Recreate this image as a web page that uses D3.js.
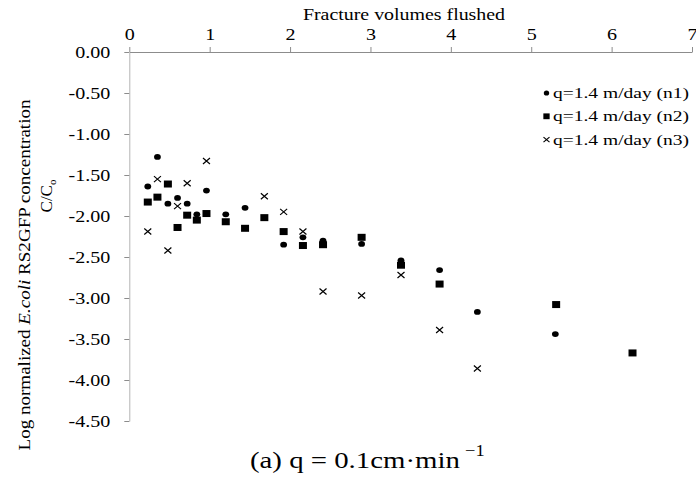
<!DOCTYPE html>
<html>
<head>
<meta charset="utf-8">
<script src="https://cdn.jsdelivr.net/npm/d3@7"></script>
<style>
  body { margin: 0; background: #fff; }
  svg { display: block; }
</style>
</head>
<body>
<svg id="chart"></svg>
<script>
// x = fracture volumes flushed, y = log C/Co
const n1X = [0.23, 0.35, 0.48, 0.60, 0.72, 0.84, 0.96, 1.20, 1.44, 1.92, 2.16, 2.41, 2.89, 3.38, 3.86, 4.33, 5.30];
const n1Y = [-1.64, -1.28, -1.85, -1.78, -1.85, -1.98, -1.69, -1.98, -1.90, -2.35, -2.26, -2.30, -2.34, -2.54, -2.66, -3.17, -3.44];

const n2X = [0.23, 0.35, 0.48, 0.60, 0.72, 0.84, 0.96, 1.20, 1.44, 1.68, 1.92, 2.16, 2.41, 2.89, 3.38, 3.86, 5.31, 6.26];
const n2Y = [-1.83, -1.77, -1.61, -2.14, -1.99, -2.05, -1.97, -2.07, -2.15, -2.02, -2.19, -2.36, -2.35, -2.26, -2.60, -2.83, -3.08, -3.67];

const n3X = [0.23, 0.35, 0.48, 0.60, 0.72, 0.96, 1.68, 1.92, 2.16, 2.41, 2.89, 3.38, 3.86, 4.33];
const n3Y = [-2.19, -1.55, -2.42, -1.88, -1.60, -1.33, -1.76, -1.95, -2.19, -2.92, -2.97, -2.72, -3.39, -3.86];

const legendLabels = ["q=1.4 m/day (n1)", "q=1.4 m/day (n2)", "q=1.4 m/day (n3)"];
const xTickValues = [0, 1, 2, 3, 4, 5, 6, 7];
const yTickValues = [0, -0.5, -1, -1.5, -2, -2.5, -3, -3.5, -4, -4.5];

const W = 696, H = 480;
const serif = "Liberation Serif";

const svg = d3.select("#chart").attr("width", W).attr("height", H);

const x = d3.scaleLinear().domain([0, 7]).range([129.3, 692]);
const y = d3.scaleLinear().domain([-4.5, 0]).range([421, 52]);

// the source picture is a bit wider than its glyphs, so stretch text
function stretch(sel, k) {
  sel.each(function () {
    const w = this.getComputedTextLength();
    d3.select(this).attr("textLength", w * k).attr("lengthAdjust", "spacingAndGlyphs");
  });
}

// top x axis
const gx = svg.append("g")
    .attr("transform", `translate(0,${y(0)})`)
    .call(d3.axisTop(x).tickValues(xTickValues).tickSize(5).tickSizeOuter(0).tickPadding(7)
      .tickFormat(d3.format("d")));
gx.select(".domain").attr("stroke", "#8c8c8c");
gx.selectAll(".tick line").attr("stroke", "#8c8c8c");
gx.selectAll("text").attr("font-family", serif).attr("font-size", 17).attr("fill", "#000")
  .call(stretch, 1.18);

// left y axis
const gy = svg.append("g")
    .attr("transform", `translate(${x(0)},0)`)
    .call(d3.axisLeft(y).tickValues(yTickValues).tickSize(5).tickSizeOuter(0).tickPadding(14)
      .tickFormat(d => d.toFixed(2)));
gy.select(".domain").attr("stroke", "#b4b4b4");
gy.selectAll(".tick line").attr("stroke", "#8c8c8c");
gy.selectAll("text").attr("font-family", serif).attr("font-size", 17).attr("fill", "#000")
  .call(stretch, 1.18);

// axis titles
svg.append("text")
    .attr("x", 404).attr("y", 20)
    .attr("text-anchor", "middle")
    .attr("font-family", serif).attr("font-size", 17)
    .text("Fracture volumes flushed")
    .call(stretch, 1.17);

const yl = svg.append("text")
    .attr("transform", "translate(30,275) rotate(-90)")
    .attr("text-anchor", "middle")
    .attr("font-family", serif).attr("font-size", 17);
yl.append("tspan").text("Log normalized ");
yl.append("tspan").attr("font-style", "italic").text("E.coli");
yl.append("tspan").text(" RS2GFP concentration");
yl.call(stretch, 1.12);

const yl2 = svg.append("text")
    .attr("transform", "translate(52,196) rotate(-90)")
    .attr("text-anchor", "middle")
    .attr("font-family", serif).attr("font-size", 17);
yl2.append("tspan").text("C/C");
yl2.append("tspan").attr("font-size", 11).attr("dy", 4).text("o");

// markers
function circleMark(g, rx, ry) {
  g.append("ellipse").attr("rx", rx).attr("ry", ry).attr("fill", "#000");
}
function squareMark(g, w, h) {
  g.append("rect").attr("x", -w / 2).attr("y", -h / 2).attr("width", w).attr("height", h).attr("fill", "#000");
}
function crossMark(g, w, h) {
  g.append("path")
    .attr("d", `M${-w / 2},${-h / 2}L${w / 2},${h / 2}M${-w / 2},${h / 2}L${w / 2},${-h / 2}`)
    .attr("stroke", "#000").attr("stroke-width", 1.2).attr("fill", "none");
}

const plot = svg.append("g");

plot.selectAll("g.n1")
  .data(d3.zip(n1X, n1Y))
  .join("g").attr("class", "n1")
  .attr("transform", d => `translate(${x(d[0])},${y(d[1])})`)
  .each(function () { circleMark(d3.select(this), 3.4, 2.9); });

plot.selectAll("g.n2")
  .data(d3.zip(n2X, n2Y))
  .join("g").attr("class", "n2")
  .attr("transform", d => `translate(${x(d[0])},${y(d[1])})`)
  .each(function () { squareMark(d3.select(this), 8, 7); });

plot.selectAll("g.n3")
  .data(d3.zip(n3X, n3Y))
  .join("g").attr("class", "n3")
  .attr("transform", d => `translate(${x(d[0])},${y(d[1])})`)
  .each(function () { crossMark(d3.select(this), 7, 6); });

// legend
const legend = svg.append("g");
const markFns = [
  g => circleMark(g, 2.7, 2.6),
  g => squareMark(g, 6.3, 5.8),
  g => crossMark(g, 6, 5)
];
legendLabels.forEach((lab, i) => {
  const row = legend.append("g").attr("transform", `translate(0,${98 + i * 23.3})`);
  markFns[i](row.append("g").attr("transform", "translate(546.5,-5)"));
  row.append("text")
    .attr("x", 553).attr("y", 0)
    .attr("font-family", serif).attr("font-size", 15)
    .text(lab)
    .call(stretch, 1.3);
});

// caption
svg.append("text")
    .attr("x", 250).attr("y", 468)
    .attr("font-family", serif).attr("font-size", 24)
    .text("(a) q = 0.1cm·min")
    .call(stretch, 1.2);
svg.append("text")
    .attr("x", 465).attr("y", 456)
    .attr("font-family", serif).attr("font-size", 16)
    .text("−1")
    .call(stretch, 1.15);
</script>
</body>
</html>
